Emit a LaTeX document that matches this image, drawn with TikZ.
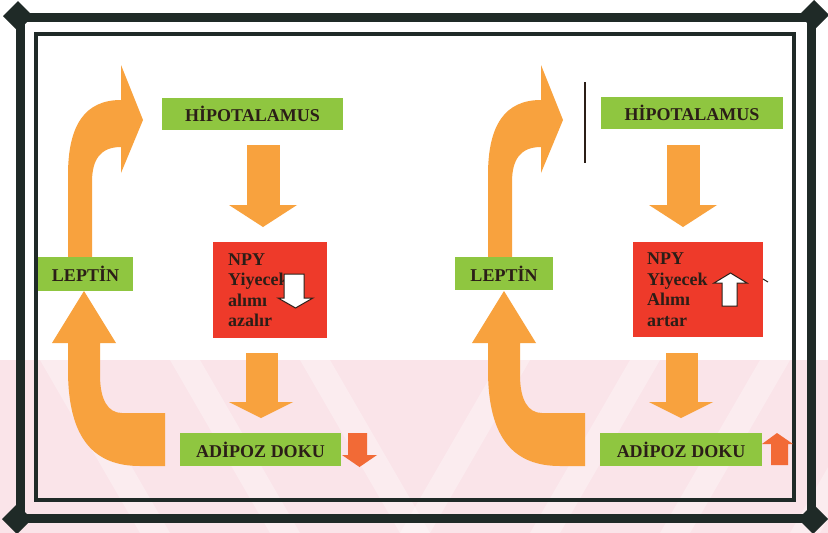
\documentclass[tikz,border=0pt]{standalone}
\usepackage{fontspec}
\setmainfont{Liberation Serif}
\usepackage{xcolor}
\usetikzlibrary{positioning,calc}

\definecolor{framedark}{HTML}{1F2A27}
\definecolor{boxgreen}{HTML}{8FC640}
\definecolor{boxred}{HTML}{EE3A2A}
\definecolor{arroworange}{HTML}{F8A23E}
\definecolor{smallred}{HTML}{F26A36}
\definecolor{textdark}{HTML}{2B1E17}
\definecolor{bandpink}{HTML}{FAE4E9}

\begin{document}
\begin{tikzpicture}[
    x=1pt, y=-1pt,
    greenbox/.style={fill=boxgreen, inner sep=0pt, text=textdark, font=\fontsize{18}{20.5}\selectfont\bfseries},
    redbox/.style={fill=boxred, anchor=north west, inner ysep=0pt, inner xsep=15pt, align=left, text=textdark, font=\fontsize{18}{20.5}\selectfont\bfseries},
    bigarrow/.style={fill=arroworange},
    smallarrow/.style={fill=smallred},
    hollowarrow/.style={fill=white, draw=textdark, line width=1pt, line join=miter},
    outerframe/.style={draw=framedark, line width=9pt},
    innerframe/.style={draw=framedark, line width=4.5pt}
]
    \useasboundingbox (0,0) rectangle (828,533);
    \fill[white] (0,0) rectangle (828,533);

    % faint striped band at the bottom
    \fill[bandpink] (0,360) rectangle (828,533);
    \foreach \sx in {40,170,300}
        \fill[white, opacity=.3] (\sx,360) -- ++(30,0) -- ++(100,173) -- ++(-30,0) -- cycle;
    \foreach \sx in {500,630,760,890}
        \fill[white, opacity=.3] (\sx,360) -- ++(30,0) -- ++(-100,173) -- ++(-30,0) -- cycle;

    % frames
    \draw[outerframe] (20,17) rectangle (811,518);
    \draw[innerframe] (36,34) rectangle (794,500);
    \foreach \cx/\cy in {18/16, 814/15, 17/519, 813/519}
        \fill[framedark] (\cx-15,\cy) -- (\cx,\cy-15) -- (\cx+15,\cy) -- (\cx,\cy+15) -- cycle;

    % orange block arrows, same in both panels
    \foreach \dx in {0,420} {
        % Leptin -> hipotalamus
        \fill[bigarrow] (68+\dx,257) -- (68+\dx,175) .. controls (68+\dx,125) and (85+\dx,100) .. (121+\dx,100)
            -- (121+\dx,65) -- (143+\dx,120) -- (121+\dx,173) -- (121+\dx,147)
            .. controls (100+\dx,147) and (92+\dx,160) .. (92+\dx,182) -- (92+\dx,257) -- cycle;
        % adipoz doku -> leptin
        \fill[bigarrow] (84+\dx,291) -- (116+\dx,343) -- (100+\dx,343) -- (100+\dx,375)
            .. controls (100+\dx,400) and (108+\dx,413) .. (122+\dx,413) -- (165+\dx,413) -- (165+\dx,466)
            -- (140+\dx,466) .. controls (95+\dx,466) and (68+\dx,440) .. (68+\dx,370) -- (68+\dx,343)
            -- (52+\dx,343) -- cycle;
        % hipotalamus -> NPY
        \fill[bigarrow] (247+\dx,145) rectangle (280+\dx,206);
        \fill[bigarrow] (229+\dx,205) -- (297+\dx,205) -- (263+\dx,227) -- cycle;
        % NPY -> adipoz doku
        \fill[bigarrow] (246+\dx,353) rectangle (278+\dx,403);
        \fill[bigarrow] (229+\dx,402) -- (293+\dx,402) -- (261+\dx,418) -- cycle;
    }

    % Left panel
    \node[greenbox, minimum width=181pt, minimum height=32pt] (hipoL) at (252.5,114) {HİPOTALAMUS};
    \node[redbox, text width=84pt, minimum height=96pt] (npyL) at (213,242) {NPY\\Yiyecek\\alımı\\azalır};
    \node[greenbox, minimum width=95pt, minimum height=34pt] (leptinL) at (85.5,274) {LEPTİN};
    \node[greenbox, minimum width=161pt, minimum height=33pt] (adipozL) at (260.5,449.5) {ADİPOZ DOKU};
    \draw[hollowarrow] (284,274) -- (304,274) -- (304,298) -- (313,298) -- (295.5,308) -- (278,298) -- (284,298) -- cycle;
    \fill[smallarrow] (348,433) -- (367,433) -- (367,455) -- (377,455) -- (359.5,467) -- (342,455) -- (348,455) -- cycle;

    % Right panel
    \node[greenbox, minimum width=182pt, minimum height=32pt] (hipoR) at (692,113) {HİPOTALAMUS};
    \node[redbox, inner xsep=14pt, text width=102pt, minimum height=95pt] (npyR) at (633,242) {NPY\\Yiyecek\\Alımı\\artar};
    \node[greenbox, minimum width=98pt, minimum height=33pt] (leptinR) at (504,273.5) {LEPTİN};
    \node[greenbox, minimum width=162pt, minimum height=33pt] (adipozR) at (681,449.5) {ADİPOZ DOKU};
    \draw[hollowarrow] (722,306) -- (737,306) -- (737,283) -- (747,283) -- (730.5,273) -- (714,283) -- (722,283) -- cycle;
    \draw[textdark, line width=1pt] (763,279) -- (768,282);
    \fill[smallarrow] (771,465) -- (788,465) -- (788,444) -- (793,444) -- (777,433) -- (762,444) -- (771,444) -- cycle;
    \draw[textdark, line width=1.3pt] (585,82) -- (585,163);
\end{tikzpicture}
\end{document}
